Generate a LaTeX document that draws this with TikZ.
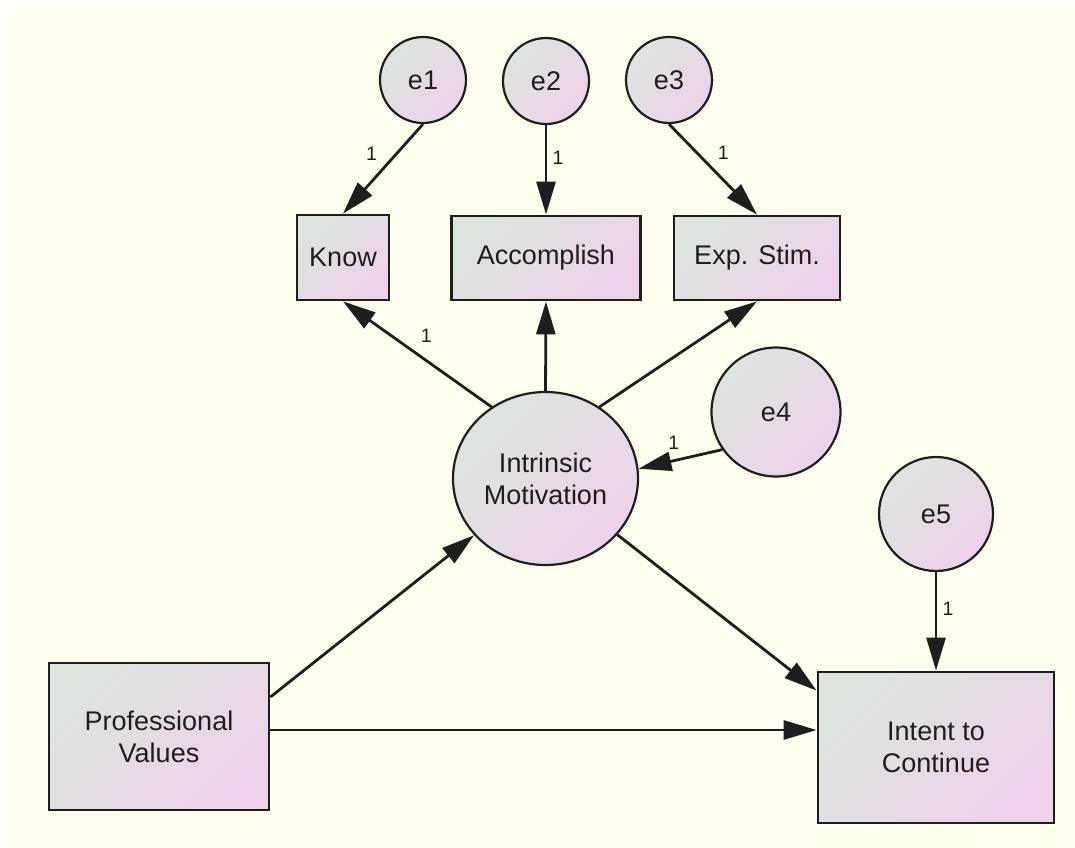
\documentclass[tikz,border=0pt]{standalone}
\usepackage{fontspec}
\setmainfont{Liberation Sans}
\usetikzlibrary{arrows.meta,shapes}
\definecolor{bgcream}{RGB}{255,255,240}
\definecolor{shadeA}{RGB}{220,228,222}
\definecolor{shadeB}{RGB}{238,210,234}
\definecolor{inkgray}{RGB}{30,30,30}

\begin{document}
\begin{tikzpicture}[x=1pt,y=-1pt,
  obs/.style={draw=inkgray,line width=2.8pt,rectangle,inner sep=0pt,align=center,
    top color=shadeA,bottom color=shadeB,shading angle=45,
    font=\fontsize{27}{32}\selectfont,text=inkgray},
  err/.style={draw=inkgray,line width=2.2pt,circle,inner sep=0pt,
    top color=shadeA,bottom color=shadeB,shading angle=45,
    font=\fontsize{27}{32}\selectfont,text=inkgray},
  reg/.style={draw=inkgray,line width=2.8pt,-{Triangle[length=33pt,width=19pt]}},
  lbl/.style={inner sep=0pt,font=\fontsize{19.5}{21}\selectfont,text=inkgray}]

\fill[white] (0,0) rectangle (1075,847);
\fill[bgcream] (8,8) rectangle (1075,847);
\useasboundingbox (0,0) rectangle (1075,847);

% error terms
\node (e1) at (423,80)[err,minimum size=86pt] {e1};
\node (e2) at (546,81)[err,minimum size=86pt] {e2};
\node (e3) at (669,80)[err,minimum size=86pt] {e3};
\node (e4) at (776,412)[err,minimum size=129pt] {e4};
\node (e5) at (936,514)[err,minimum size=114pt] {e5};

% indicators
\node (Know) at (343,257.5)[obs,minimum width=92pt,minimum height=85pt] {Know};
\node (Accomp) at (546,258)[obs,minimum width=189pt,minimum height=84pt] {Accomplish};
\node (ExpStim) at (757,258)[obs,minimum width=166pt,minimum height=84pt] {Exp. Stim.};

% latent and observed
\node (IntMot) at (545.5,478.5)[err,ellipse,minimum width=185pt,minimum height=173pt,align=center] {Intrinsic\\Motivation};
\node (ProfVal) at (159,736.5)[obs,minimum width=220pt,minimum height=147pt] {Professional\\Values};
\node (Intent) at (936,747.5)[obs,minimum width=236pt,minimum height=151pt] {Intent to\\Continue};

% paths
\draw[reg] (e1.south) -- node[lbl,pos=0.33,xshift=-25pt] {1} (Know.north);
\draw[reg] (e2.south) -- node[lbl,pos=0.36,xshift=12pt] {1} (Accomp.north);
\draw[reg] (e3.south) -- node[lbl,pos=0.32,xshift=26pt] {1} (ExpStim.north);
\draw[reg] (IntMot.127) -- node[lbl,pos=0.44,yshift=25pt] {1} (Know.south);
\draw[reg] (IntMot.north) -- (Accomp.south);
\draw[reg] (IntMot.53) -- (ExpStim.south);
\draw[reg] (e4.215) -- node[lbl,pos=0.58,yshift=18pt] {1} (IntMot.6);
\draw[reg] (e5.south) -- node[lbl,pos=0.37,xshift=12pt] {1} (Intent.north);
\draw[reg] ([yshift=39.5pt]ProfVal.east) -- (IntMot);
\draw[reg] ([yshift=6.5pt]ProfVal.east) -- ([yshift=17.5pt]Intent.west);
\draw[reg] (IntMot) -- ([yshift=-20pt]Intent.north west);
\end{tikzpicture}
\end{document}
